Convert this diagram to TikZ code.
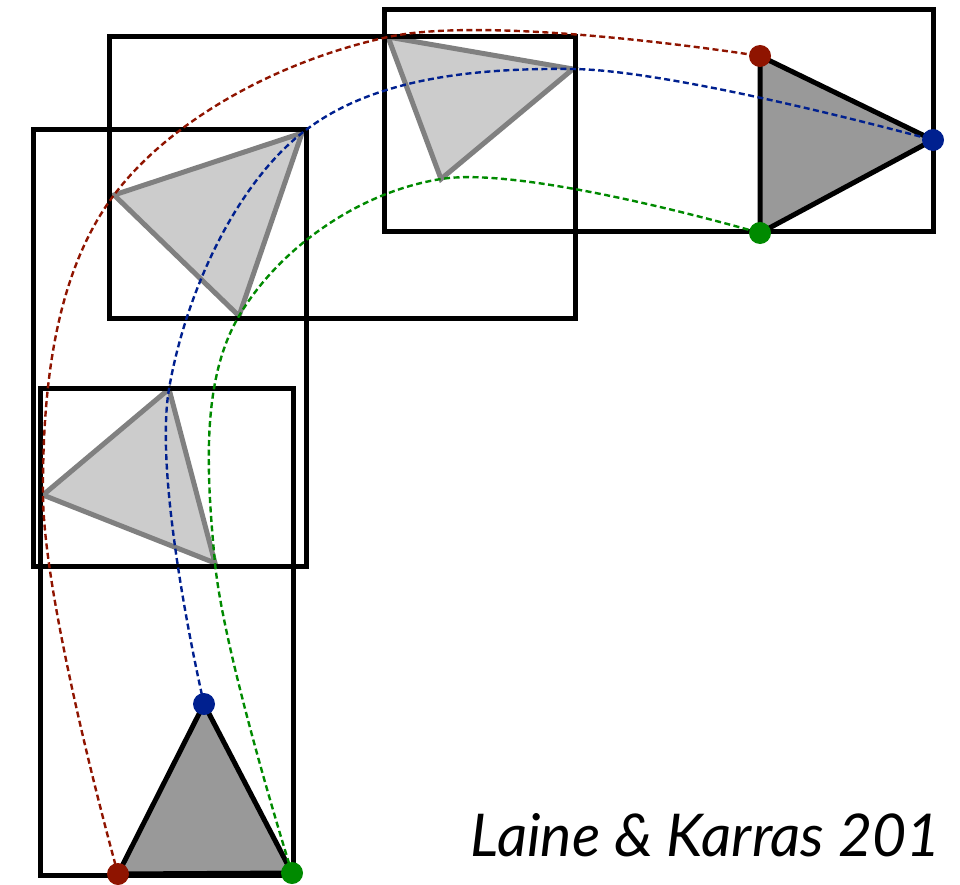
\documentclass[tikz,border=0pt]{standalone}
\usepackage{fontspec}
\setmainfont{Lato}
\definecolor{cred}{HTML}{8F1400}
\definecolor{cblue}{HTML}{00208F}
\definecolor{cgreen}{HTML}{008A00}
\definecolor{tridark}{HTML}{999999}
\definecolor{trilight}{HTML}{CCCCCC}
\definecolor{triedge}{HTML}{808080}
\begin{document}
\begin{tikzpicture}[x=1pt,y=-1pt,
  frame/.style={draw=black,line width=5pt},
  ghost/.style={draw=triedge,fill=trilight,line width=5pt,line join=miter},
  solidtri/.style={draw=black,fill=tridark,line width=5pt,line join=round},
  path/.style={line width=2.4pt,dash pattern=on 6pt off 3.5pt},
  dot/.style={circle,inner sep=0pt,minimum size=22pt}]
\useasboundingbox (0,0) rectangle (960,885);
% vertices
\coordinate (r0) at (118,874); \coordinate (b0) at (204,704); \coordinate (g0) at (292,873);
\coordinate (r1) at (43,495);  \coordinate (b1) at (169,389); \coordinate (g1) at (215,563);
\coordinate (r2) at (114,195); \coordinate (b2) at (302,133); \coordinate (g2) at (239,316);
\coordinate (r3) at (388,37);  \coordinate (b3) at (573,69);  \coordinate (g3) at (441,179);
\coordinate (r4) at (760,56);  \coordinate (b4) at (933,140); \coordinate (g4) at (760,233);
% triangles
\draw[ghost] (r1) -- (b1) -- (g1) -- cycle;
\draw[ghost] (r2) -- (b2) -- (g2) -- cycle;
\draw[ghost] (r3) -- (b3) -- (g3) -- cycle;
\draw[solidtri] (r0) -- (b0) -- (g0) -- cycle;
\draw[solidtri] (r4) -- (b4) -- (g4) -- cycle;
% frames
\draw[frame] (40,388) rectangle (293,875);
\draw[frame] (33,130) rectangle (306,566);
\draw[frame] (109,37) rectangle (575,318);
\draw[frame] (384,10) rectangle (933,232);
% motion paths
\draw[path,cred] plot[smooth,tension=0.6] coordinates {(r0) (r1) (r2) (r3) (r4)};
\draw[path,cblue] plot[smooth,tension=0.6] coordinates {(b0) (b1) (b2) (b3) (b4)};
\draw[path,cgreen] plot[smooth,tension=0.6] coordinates {(g0) (g1) (g2) (g3) (g4)};
% dots
\node[dot,fill=cred] (dr0) at (r0) {};
\node[dot,fill=cblue] (db0) at (b0) {};
\node[dot,fill=cgreen] (dg0) at (g0) {};
\node[dot,fill=cred] (dr4) at (r4) {};
\node[dot,fill=cblue] (db4) at (b4) {};
\node[dot,fill=cgreen] (dg4) at (g4) {};
% caption
\node[anchor=base east,inner sep=0pt,font=\fontsize{59}{61}\selectfont\itshape] (cap) at (941,856) {Laine \& Karras 201};
\end{tikzpicture}
\end{document}
